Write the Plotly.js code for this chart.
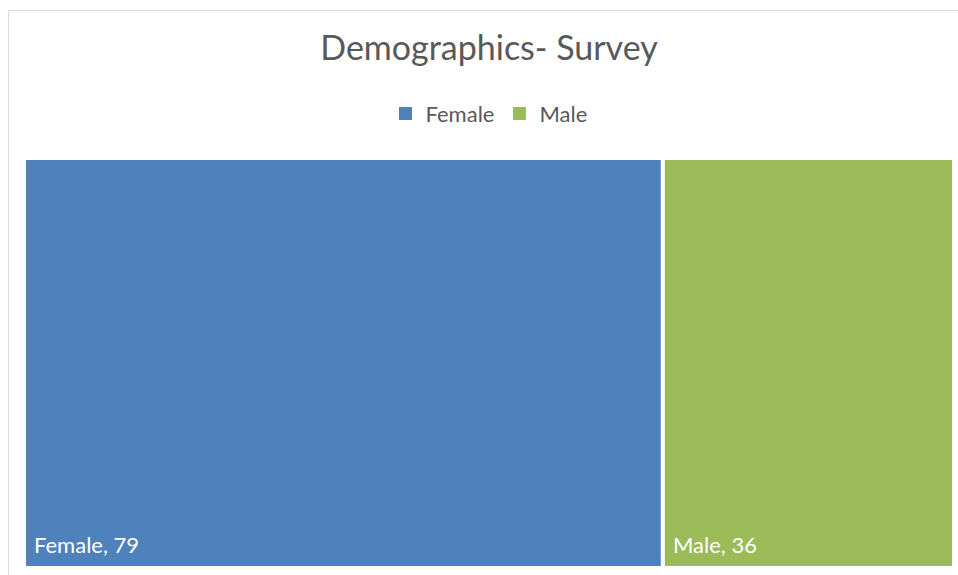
<!DOCTYPE html>
<html>
<head>
<meta charset="utf-8">
<script src="https://cdn.plot.ly/plotly-3.0.1.min.js"></script>
<style>html,body{margin:0;padding:0;background:#fff;}#chart{width:958px;height:575px;}</style>
</head>
<body>
<div id="chart"></div>
<script>
const categories = ["Female", "Male"];
const values = [79, 36];
const colors = ["#4F81BD", "#9BBB59"];

const bases = [];
let acc = 0;
for (const v of values) { bases.push(acc); acc += v; }
const total = acc;

const FONT = "Lato, Open Sans, sans-serif";

const bars = categories.map((c, i) => ({
  type: "bar",
  orientation: "h",
  name: c,
  y: [0],
  x: [values[i]],
  base: [bases[i]],
  width: [1],
  showlegend: false,
  marker: { color: colors[i], line: { color: "#ffffff", width: 4 } },
  hoverinfo: "name+x"
}));

const legendItems = categories.map((c, i) => ({
  type: "scatter", mode: "markers", name: c,
  x: [null], y: [null],
  marker: { symbol: "square", size: 13, color: colors[i] },
  showlegend: true
}));

const annotations = categories.map((c, i) => ({
  x: bases[i], y: -0.5, xref: "x", yref: "y",
  text: c + ", " + values[i],
  showarrow: false, xanchor: "left", yanchor: "bottom",
  xshift: 8, yshift: 8,
  font: { family: FONT, size: 22, color: "#ffffff" }
}));

const layout = {
  width: 958, height: 575,
  margin: { l: 24, r: 4, t: 158, b: 7 },
  paper_bgcolor: "#ffffff", plot_bgcolor: "rgba(0,0,0,0)",
  barmode: "overlay",
  title: { text: "Demographics- Survey", x: 0.5, xref: "paper", y: 0.916, yanchor: "middle",
           font: { family: FONT, size: 34, color: "#595959" } },
  showlegend: true,
  legend: { orientation: "h", x: 0.5, xanchor: "center", y: 1.108, yanchor: "middle",
            font: { family: FONT, size: 22, color: "#595959" },
            traceorder: "normal", itemwidth: 30 },
  xaxis: { range: [0, total], visible: false, fixedrange: true },
  yaxis: { range: [-0.5, 0.5], visible: false, fixedrange: true },
  bargap: 0,
  annotations: annotations,
  shapes: [{ type: "rect", xref: "paper", yref: "paper",
             x0: (8.5 - 24) / 930, x1: (962 - 24) / 930,
             y0: -0.05, y1: (575 - 7 - 10.5) / 410,
             line: { color: "#d9d9d9", width: 1 }, fillcolor: "rgba(0,0,0,0)", layer: "below" }]
};

Plotly.newPlot("chart", bars.concat(legendItems), layout, { displayModeBar: false, staticPlot: true });
</script>
</body>
</html>
